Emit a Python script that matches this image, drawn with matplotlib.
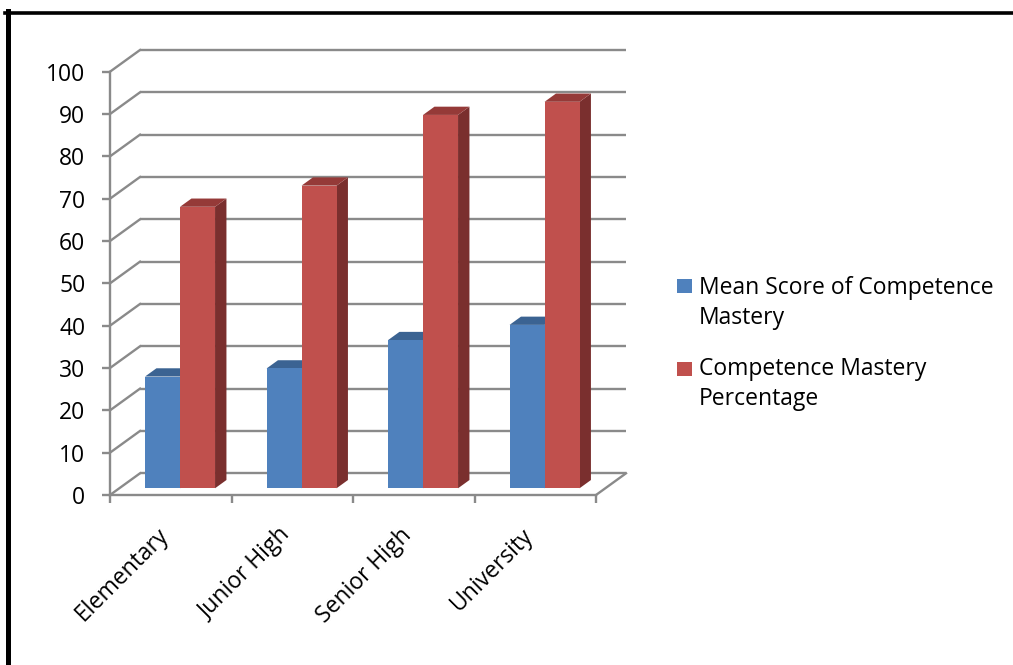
import matplotlib
matplotlib.use('Agg')
import matplotlib.pyplot as plt
from matplotlib.patches import Polygon, Rectangle
from matplotlib.lines import Line2D
import matplotlib.transforms as mtransforms

# ---------------- data ----------------
categories = ['Elementary', 'Junior High', 'Senior High', 'University']
mean_score = [26.4, 28.3, 35.0, 38.6]
mastery_pct = [66.5, 71.5, 88.2, 91.3]
series_labels = ['Mean Score of Competence\nMastery', 'Competence Mastery\nPercentage']
yticks = list(range(0, 101, 10))

# ---------------- style ----------------
plt.rcParams['font.family'] = ['Open Sans', 'DejaVu Sans']
FS = 16.5
GRID = '#8a8a8a'
front_cols = ['#4F81BD', '#C0504D']
top_cols = ['#3B6392', '#953A38']
side_cols = ['#36587F', '#7A2F2E']

W, H = 1013, 665
fig = plt.figure(figsize=(W / 100, H / 100), dpi=100)

# plot geometry in pixels (front plane)
x0px, x1px = 110.0, 596.0
y0px, y100px = 495.0, 71.7
ncat = len(categories)
pxcat = (x1px - x0px) / ncat
pxval = (y0px - y100px) / 100.0
xlim = (-0.3, 4.5)
ylim = (-5, 110)
left = x0px + xlim[0] * pxcat
right = x0px + xlim[1] * pxcat
bot = y0px - ylim[0] * pxval
top = y0px - ylim[1] * pxval
ax = fig.add_axes([left / W, 1 - bot / H, (right - left) / W, (bot - top) / H])
ax.set_xlim(xlim)
ax.set_ylim(ylim)
ax.patch.set_alpha(0)

# oblique depth of the 3D box (in data units)
DX = 30.0 / pxcat
DY = 21.7 / pxval

# back wall gridlines + left wall diagonals
for v in yticks:
    ax.plot([DX, ncat + DX], [v + DY, v + DY], color=GRID, lw=1.7, zorder=1,
            solid_capstyle='butt')
    ax.plot([0, DX], [v, v + DY], color=GRID, lw=1.7, zorder=1)
# floor right edge
ax.plot([ncat, ncat + DX], [0, DY], color=GRID, lw=1.7, zorder=1)

# spines / ticks
for s in ['top', 'right']:
    ax.spines[s].set_visible(False)
for s in ['left', 'bottom']:
    ax.spines[s].set_color(GRID)
    ax.spines[s].set_linewidth(1.7)
    ax.spines[s].set_position(('data', 0))
ax.spines['left'].set_bounds(0, 100)
ax.spines['bottom'].set_bounds(0, ncat)
ax.set_yticks(yticks)
ax.set_yticklabels([str(v) for v in yticks])
ax.set_xticks(range(ncat + 1))
ax.set_xticklabels([])
ax.tick_params(axis='both', direction='out', length=5.8, width=1.7, color=GRID)
ax.tick_params(axis='y', pad=12, labelsize=FS)

# bars
bar_w = 0.288
f0, f1 = 0.31, 0.69
series = [mean_score, mastery_pct]
for i in range(ncat):
    for k, vals in enumerate(series):
        xl = i + 0.5 - bar_w + k * bar_w + f0 * DX
        base = f0 * DY
        v = vals[i]
        ddx = (f1 - f0) * DX
        ddy = (f1 - f0) * DY
        xr = xl + bar_w
        # side face
        ax.add_patch(Polygon([(xr, base), (xr + ddx, base + ddy),
                              (xr + ddx, base + v + ddy), (xr, base + v)],
                             closed=True, facecolor=side_cols[k], edgecolor='none', zorder=3))
        # top face
        ax.add_patch(Polygon([(xl, base + v), (xr, base + v),
                              (xr + ddx, base + v + ddy), (xl + ddx, base + v + ddy)],
                             closed=True, facecolor=top_cols[k], edgecolor='none', zorder=3))
        # front face
        ax.bar(xl, v, width=bar_w, bottom=base, align='edge', color=front_cols[k],
               edgecolor='none', zorder=3)

# category labels
for i, name in enumerate(categories):
    off = mtransforms.ScaledTranslation(-1 / 100, -41 / 100, fig.dpi_scale_trans)
    ax.text(i + 0.5, 0, name, rotation=45, ha='right', va='baseline',
            rotation_mode='anchor', fontsize=FS, transform=ax.transData + off)

# legend (drawn in figure pixels)
def fx(px):
    return px / W

def fy(py):
    return 1 - py / H

sq_y = [279, 362]
last_baseline = [323.5, 405]
for k, lab in enumerate(series_labels):
    y = sq_y[k]
    fig.patches.append(Rectangle((fx(677), fy(y + 13.5)), 15 / W, 13.5 / H,
                                 transform=fig.transFigure, facecolor=front_cols[k],
                                 edgecolor='none'))
    fig.text(fx(699), fy(last_baseline[k]), lab, fontsize=FS, ha='left', va='baseline',
             linespacing=1.33)

# frame
fig.add_artist(Line2D([fx(5), fx(1013)], [fy(12.5), fy(12.5)], transform=fig.transFigure,
                      color='black', lw=2.6))
fig.add_artist(Line2D([fx(7.5), fx(7.5)], [fy(11), fy(665)], transform=fig.transFigure,
                      color='black', lw=3.6))

fig.savefig('out.png', dpi=100)
